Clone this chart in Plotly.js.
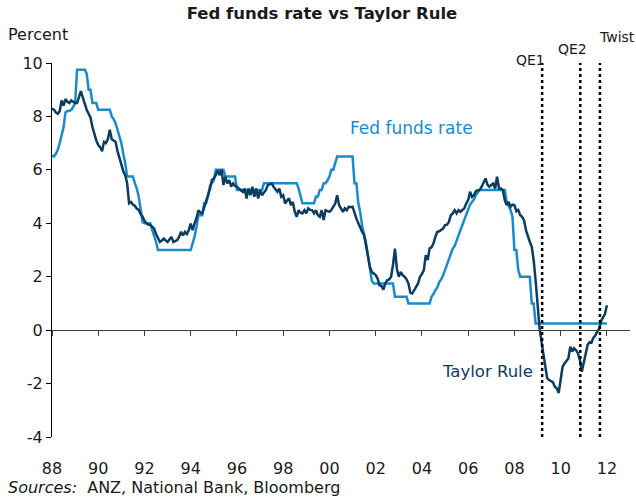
<!DOCTYPE html>
<html>
<head>
<meta charset="utf-8">
<script src="https://cdn.plot.ly/plotly-3.0.1.min.js"></script>
<style>html,body{margin:0;padding:0;background:#fff;}#chart{width:636px;height:497px;}</style>
</head>
<body>
<div id="chart"></div>
<script>
// Monthly series, starting January 1988
const startYear = 1988;

const fedFunds = [
  /*1988*/ 6.55, 6.5, 6.6, 6.75, 7.0, 7.3, 7.6, 8.15, 8.2, 8.2, 8.25, 8.35,
  /*1989*/ 8.5, 9.75, 9.75, 9.75, 9.75, 9.75, 9.6, 9.0, 9.0, 8.5, 8.5, 8.5,
  /*1990*/ 8.25, 8.25, 8.25, 8.25, 8.25, 8.25, 8.25, 8.0, 7.9, 7.75, 7.5, 7.25,
  /*1991*/ 7.0, 6.6, 6.25, 5.75, 5.75, 5.75, 5.75, 5.5, 5.3, 5.0, 4.6, 4.05,
  /*1992*/ 4.0, 4.0, 4.0, 4.0, 3.75, 3.55, 3.3, 3.0, 3.0, 3.0, 3.0, 3.0,
  /*1993*/ 3.0, 3.0, 3.0, 3.0, 3.0, 3.0, 3.0, 3.0, 3.0, 3.0, 3.0, 3.0,
  /*1994*/ 3.0, 3.25, 3.5, 3.87, 4.3, 4.3, 4.3, 4.75, 4.75, 5.0, 5.4, 5.5,
  /*1995*/ 5.62, 6.0, 6.0, 6.0, 6.0, 6.0, 5.75, 5.75, 5.75, 5.75, 5.75, 5.75,
  /*1996*/ 5.25, 5.25, 5.25, 5.25, 5.25, 5.25, 5.25, 5.25, 5.25, 5.25, 5.25, 5.25,
  /*1997*/ 5.25, 5.25, 5.5, 5.5, 5.5, 5.5, 5.5, 5.5, 5.5, 5.5, 5.5, 5.5,
  /*1998*/ 5.5, 5.5, 5.5, 5.5, 5.5, 5.5, 5.5, 5.5, 5.3, 5.0, 4.75, 4.75,
  /*1999*/ 4.75, 4.75, 4.75, 4.75, 4.75, 5.0, 5.0, 5.25, 5.25, 5.5, 5.5, 5.6,
  /*2000*/ 5.75, 6.0, 6.0, 6.25, 6.5, 6.5, 6.5, 6.5, 6.5, 6.5, 6.5, 6.5,
  /*2001*/ 6.5, 5.5, 5.5, 4.75, 4.4, 3.9, 3.6, 3.25, 2.8, 2.4, 1.85, 1.75,
  /*2002*/ 1.75, 1.75, 1.75, 1.75, 1.75, 1.75, 1.75, 1.75, 1.75, 1.75, 1.25, 1.25,
  /*2003*/ 1.25, 1.25, 1.25, 1.25, 1.25, 1.0, 1.0, 1.0, 1.0, 1.0, 1.0, 1.0,
  /*2004*/ 1.0, 1.0, 1.0, 1.0, 1.0, 1.25, 1.35, 1.5, 1.6, 1.8, 1.9, 2.05,
  /*2005*/ 2.25, 2.45, 2.6, 2.8, 3.05, 3.15, 3.4, 3.55, 3.75, 3.95, 4.15, 4.35,
  /*2006*/ 4.55, 4.7, 4.8, 4.9, 5.05, 5.15, 5.25, 5.25, 5.25, 5.25, 5.25, 5.25,
  /*2007*/ 5.25, 5.25, 5.25, 5.25, 5.25, 5.25, 5.25, 5.25, 4.8, 4.65, 4.5, 4.25,
  /*2008*/ 3.0, 3.0, 2.25, 2.0, 2.0, 2.0, 2.0, 2.0, 2.0, 1.0, 1.0, 0.25,
  /*2009*/ 0.25, 0.25, 0.25, 0.25, 0.25, 0.25, 0.25, 0.25, 0.25, 0.25, 0.25, 0.25,
  /*2010*/ 0.25, 0.25, 0.25, 0.25, 0.25, 0.25, 0.25, 0.25, 0.25, 0.25, 0.25, 0.25,
  /*2011*/ 0.25, 0.25, 0.25, 0.25, 0.25, 0.25, 0.25, 0.25, 0.25, 0.25, 0.25, 0.25,
  /*2012*/ 0.25
];

const taylorRule = [
  /*1988*/ 8.3, 8.25, 8.15, 8.1, 8.2, 8.6, 8.4, 8.65, 8.55, 8.5, 8.6, 8.55,
  /*1989*/ 8.5, 8.5, 8.75, 8.95, 8.7, 8.45, 8.25, 8.1, 7.95, 7.6, 7.3, 7.1,
  /*1990*/ 6.93, 6.85, 6.7, 7.05, 7.0, 7.15, 7.5, 7.15, 7.1, 7.05, 6.7, 6.45,
  /*1991*/ 6.25, 5.95, 5.8, 5.5, 4.75, 4.8, 4.7, 4.65, 4.55, 4.5, 4.35, 4.25,
  /*1992*/ 4.1, 4.0, 3.95, 3.93, 3.87, 3.8, 3.6, 3.43, 3.3, 3.35, 3.43, 3.35,
  /*1993*/ 3.3, 3.4, 3.49, 3.3, 3.35, 3.37, 3.5, 3.68, 3.55, 3.68, 3.6, 3.75,
  /*1994*/ 3.99, 3.74, 4.0, 4.2, 4.49, 4.4, 4.37, 4.6, 4.8, 5.12, 5.3, 5.62,
  /*1995*/ 5.68, 5.8, 5.99, 5.8, 6.01, 5.43, 5.74, 5.49, 5.62, 5.37, 5.49, 5.4,
  /*1996*/ 5.37, 5.3, 5.25, 5.18, 5.3, 4.93, 5.3, 5.05, 5.37, 4.99, 5.3, 4.93,
  /*1997*/ 5.24, 5.05, 5.15, 5.24, 5.43, 5.45, 5.49, 5.37, 5.25, 5.18, 5.3, 4.99,
  /*1998*/ 5.05, 4.74, 4.85, 4.93, 4.68, 4.8, 4.43, 4.24, 4.49, 4.4, 4.37, 4.49,
  /*1999*/ 4.37, 4.56, 4.5, 4.49, 4.37, 4.49, 4.3, 4.24, 4.49, 4.12, 4.49, 4.45,
  /*2000*/ 4.43, 4.5, 4.62, 4.74, 5.05, 4.68, 4.56, 4.43, 4.56, 4.49, 4.62, 4.6,
  /*2001*/ 4.62, 4.37, 4.18, 4.0, 3.8, 3.68, 3.56, 3.18, 2.74, 2.37, 2.18, 2.1,
  /*2002*/ 2.06, 1.93, 1.68, 1.65, 1.52, 1.75, 1.87, 1.9, 2.0, 2.45, 3.05, 2.3,
  /*2003*/ 2.0, 2.18, 2.06, 2.0, 1.9, 1.75, 1.4, 1.37, 1.5, 1.62, 1.75, 2.0,
  /*2004*/ 2.1, 2.25, 2.81, 2.62, 3.06, 3.1, 3.25, 3.5, 3.68, 3.7, 3.74, 3.8,
  /*2005*/ 3.93, 3.95, 4.05, 4.3, 4.37, 4.49, 4.37, 4.49, 4.43, 4.5, 4.56, 4.74,
  /*2006*/ 4.87, 5.18, 4.99, 5.05, 5.2, 5.24, 5.25, 5.37, 5.5, 5.68, 5.45, 5.37,
  /*2007*/ 5.43, 5.49, 5.3, 5.74, 5.3, 5.3, 5.24, 4.87, 4.68, 4.8, 4.62, 4.7,
  /*2008*/ 4.68, 4.45, 4.5, 4.3, 4.24, 4.12, 3.74, 3.5, 3.31, 3.12, 2.62, 1.87,
  /*2009*/ 1.0, 0.12, -0.4, -0.87, -1.25, -1.8, -1.87, -1.9, -1.95, -2.12, -2.18, -2.35,
  /*2010*/ -1.87, -1.37, -1.25, -1.15, -1.06, -0.62, -0.8, -0.68, -0.75, -0.87, -1.12, -1.56,
  /*2011*/ -1.2, -0.85, -0.55, -0.45, -0.47, -0.28, -0.2, -0.05, 0.05, 0.35, 0.5, 0.6,
  /*2012*/ 0.93
];

const xTickYears = [1988, 1990, 1992, 1994, 1996, 1998, 2000, 2002, 2004, 2006, 2008, 2010, 2012];
const xTickLabels = ['88', '90', '92', '94', '96', '98', '00', '02', '04', '06', '08', '10', '12'];
const yTickValues = [-4, -2, 0, 2, 4, 6, 8, 10];
const yTickLabels = ['-4', '-2', '0', '2', '4', '6', '8', '10'];

const eventNames = ['QE1', 'QE2', 'Twist'];
const eventDates = [2009.2, 2010.85, 2011.7];

const monthDates = fedFunds.map((_, i) => startYear + i / 12);
const monthDatesT = taylorRule.map((_, i) => startYear + i / 12);

const FED_COLOR = '#1a8bc8';
const TAYLOR_COLOR = '#0c3d61';
const TEXT = '#1a1a1a';
const FONT = 'DejaVu Sans, Verdana, sans-serif';

const traces = [
  {x: monthDates, y: fedFunds, type: 'scatter', mode: 'lines', name: 'Fed funds rate',
   line: {color: FED_COLOR, width: 2.5}, xaxis: 'x', yaxis: 'y', hoverinfo: 'skip'},
  {x: monthDatesT, y: taylorRule, type: 'scatter', mode: 'lines', name: 'Taylor Rule',
   line: {color: TAYLOR_COLOR, width: 2.5}, xaxis: 'x2', yaxis: 'y', hoverinfo: 'skip'}
];

// label placement (pixel shift from the event line, paper height)
const eventLabelPlace = [{xshift: -12, y: 1.008}, {xshift: -8, y: 1.037}, {xshift: 17, y: 1.069}];

const shapes = eventDates.map(d => ({
  type: 'line', xref: 'x', yref: 'paper', x0: d, x1: d, y0: 0, y1: 1,
  line: {color: '#000', width: 2.5, dash: 'dot'}
}));

const annotations = eventNames.map((n, i) => ({
  text: n, x: eventDates[i], y: eventLabelPlace[i].y, xref: 'x', yref: 'paper',
  xshift: eventLabelPlace[i].xshift, showarrow: false,
  font: {family: FONT, size: 14, color: TEXT}, xanchor: 'center', yanchor: 'middle'
}));

annotations.push(
  {text: 'Fed funds rate', x: 2003.55, y: 7.56, xref: 'x', yref: 'y', showarrow: false,
   font: {family: FONT, size: 17, color: FED_COLOR}, xanchor: 'center', yanchor: 'middle'},
  {text: 'Taylor Rule', x: 2006.83, y: -1.53, xref: 'x', yref: 'y', showarrow: false,
   font: {family: FONT, size: 16.5, color: TAYLOR_COLOR}, xanchor: 'center', yanchor: 'middle'},
  {text: 'Percent', x: -0.079, y: 1.0775, xref: 'paper', yref: 'paper', showarrow: false,
   font: {family: FONT, size: 16, color: TEXT}, xanchor: 'left', yanchor: 'middle'},
  {text: '<i>Sources:</i>  ANZ, National Bank, Bloomberg', x: -0.08, y: -0.1337,
   xref: 'paper', yref: 'paper', showarrow: false,
   font: {family: FONT, size: 16, color: TEXT}, xanchor: 'left', yanchor: 'middle'}
);

const layout = {
  width: 636, height: 497,
  margin: {l: 52, r: 6, t: 63, b: 60},
  paper_bgcolor: '#fff', plot_bgcolor: '#fff',
  showlegend: false,
  title: {text: '<b>Fed funds rate vs Taylor Rule</b>', x: 322 / 636, xanchor: 'center',
          y: 1 - 13 / 497, yanchor: 'middle', xref: 'container', yref: 'container',
          font: {family: FONT, size: 16.5, color: TEXT}},
  xaxis: {range: [1988, 2013], showline: false, showgrid: false, zeroline: false,
          tickvals: xTickYears, ticktext: xTickLabels, ticks: 'outside', ticklen: 17,
          tickcolor: 'rgba(0,0,0,0)', tickfont: {family: FONT, size: 16, color: TEXT},
          fixedrange: true},
  xaxis2: {range: [1988, 2013], overlaying: 'x', anchor: 'free', position: 4 / 14,
           showline: true, linecolor: '#404040', linewidth: 1, showgrid: false, zeroline: false,
           tickvals: xTickYears, ticks: 'outside', ticklen: 5, tickcolor: '#404040', tickwidth: 1,
           showticklabels: false, fixedrange: true},
  yaxis: {range: [-4, 10], showline: true, linecolor: '#000', linewidth: 1, showgrid: false,
          zeroline: false, tickvals: yTickValues, ticktext: yTickLabels, ticks: 'outside',
          ticklen: 5, tickcolor: '#000', tickfont: {family: FONT, size: 16, color: TEXT},
          fixedrange: true},
  shapes: shapes,
  annotations: annotations
};

Plotly.newPlot('chart', traces, layout, {staticPlot: true, displayModeBar: false});
</script>
</body>
</html>
